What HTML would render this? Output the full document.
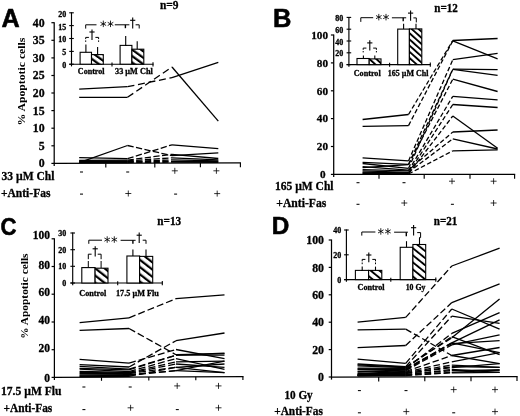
<!DOCTYPE html>
<html><head><meta charset="utf-8"><title>Figure</title>
<style>
html,body{margin:0;padding:0;background:#fff;}
body{width:520px;height:416px;overflow:hidden;font-family:"Liberation Serif",serif;}
svg{display:block;}
</style></head><body>
<svg width="520" height="416" viewBox="0 0 520 416">
<defs>
<pattern id="hatchA" patternUnits="userSpaceOnUse" width="5.2" height="5.2" patternTransform="rotate(-54)"><rect width="5.2" height="5.2" fill="#fff"/><rect x="0" y="0" width="2.2" height="5.2" fill="#000"/></pattern>
<pattern id="hatchB" patternUnits="userSpaceOnUse" width="4.6" height="4.6" patternTransform="rotate(-48)"><rect width="4.6" height="4.6" fill="#fff"/><rect x="0" y="0" width="1.9" height="4.6" fill="#000"/></pattern>
<pattern id="hatchC" patternUnits="userSpaceOnUse" width="5.7" height="5.7" patternTransform="rotate(-52)"><rect width="5.7" height="5.7" fill="#fff"/><rect x="0" y="0" width="2.2" height="5.7" fill="#000"/></pattern>
<pattern id="hatchD" patternUnits="userSpaceOnUse" width="5.5" height="5.5" patternTransform="rotate(-51)"><rect width="5.5" height="5.5" fill="#fff"/><rect x="0" y="0" width="1.9" height="5.5" fill="#000"/></pattern>
<filter id="soft" x="0" y="0" width="520" height="416" filterUnits="userSpaceOnUse"><feGaussianBlur stdDeviation="0.4"/></filter>
</defs>
<rect width="520" height="416" fill="#fff"/>
<g filter="url(#soft)">

<text x="1.5" y="26.8" font-size="25.5" font-family="Liberation Sans, sans-serif" font-weight="bold" stroke="#000" stroke-width="0.6" stroke-linejoin="round" text-anchor="start" textLength="18.2" lengthAdjust="spacingAndGlyphs" >A</text>
<text x="273.0" y="26.8" font-size="25.5" font-family="Liberation Sans, sans-serif" font-weight="bold" stroke="#000" stroke-width="0.6" stroke-linejoin="round" text-anchor="start" >B</text>
<text x="0.6" y="234.6" font-size="24.8" font-family="Liberation Sans, sans-serif" font-weight="bold" stroke="#000" stroke-width="0.6" stroke-linejoin="round" text-anchor="start" textLength="16.0" lengthAdjust="spacingAndGlyphs" >C</text>
<text x="271.8" y="233.9" font-size="24.3" font-family="Liberation Sans, sans-serif" font-weight="bold" stroke="#000" stroke-width="0.6" stroke-linejoin="round" text-anchor="start" >D</text>
<line x1="54.2" y1="22.2" x2="54.2" y2="166.0" stroke="#000" stroke-width="1.25" stroke-linecap="butt"/>
<line x1="53.6" y1="163.4" x2="241.0" y2="162.9" stroke="#000" stroke-width="1.25" stroke-linecap="butt"/>
<line x1="51.4" y1="163.4" x2="54.2" y2="163.4" stroke="#000" stroke-width="1.2" stroke-linecap="butt"/>
<text x="44.6" y="167.3" font-size="11.8" font-family="Liberation Serif, serif" font-weight="bold" stroke="#000" stroke-width="0.3" text-anchor="end" >0</text>
<line x1="51.4" y1="145.8" x2="54.2" y2="145.8" stroke="#000" stroke-width="1.2" stroke-linecap="butt"/>
<text x="44.6" y="149.7" font-size="11.8" font-family="Liberation Serif, serif" font-weight="bold" stroke="#000" stroke-width="0.3" text-anchor="end" >5</text>
<line x1="51.4" y1="128.2" x2="54.2" y2="128.2" stroke="#000" stroke-width="1.2" stroke-linecap="butt"/>
<text x="44.6" y="132.1" font-size="11.8" font-family="Liberation Serif, serif" font-weight="bold" stroke="#000" stroke-width="0.3" text-anchor="end" >10</text>
<line x1="51.4" y1="110.6" x2="54.2" y2="110.6" stroke="#000" stroke-width="1.2" stroke-linecap="butt"/>
<text x="44.6" y="114.5" font-size="11.8" font-family="Liberation Serif, serif" font-weight="bold" stroke="#000" stroke-width="0.3" text-anchor="end" >15</text>
<line x1="51.4" y1="93.0" x2="54.2" y2="93.0" stroke="#000" stroke-width="1.2" stroke-linecap="butt"/>
<text x="44.6" y="97.0" font-size="11.8" font-family="Liberation Serif, serif" font-weight="bold" stroke="#000" stroke-width="0.3" text-anchor="end" >20</text>
<line x1="51.4" y1="75.5" x2="54.2" y2="75.5" stroke="#000" stroke-width="1.2" stroke-linecap="butt"/>
<text x="44.6" y="79.4" font-size="11.8" font-family="Liberation Serif, serif" font-weight="bold" stroke="#000" stroke-width="0.3" text-anchor="end" >25</text>
<line x1="51.4" y1="57.9" x2="54.2" y2="57.9" stroke="#000" stroke-width="1.2" stroke-linecap="butt"/>
<text x="44.6" y="61.8" font-size="11.8" font-family="Liberation Serif, serif" font-weight="bold" stroke="#000" stroke-width="0.3" text-anchor="end" >30</text>
<line x1="51.4" y1="40.3" x2="54.2" y2="40.3" stroke="#000" stroke-width="1.2" stroke-linecap="butt"/>
<text x="44.6" y="44.2" font-size="11.8" font-family="Liberation Serif, serif" font-weight="bold" stroke="#000" stroke-width="0.3" text-anchor="end" >35</text>
<line x1="51.4" y1="22.7" x2="54.2" y2="22.7" stroke="#000" stroke-width="1.2" stroke-linecap="butt"/>
<text x="44.6" y="26.6" font-size="11.8" font-family="Liberation Serif, serif" font-weight="bold" stroke="#000" stroke-width="0.3" text-anchor="end" >40</text>
<line x1="105.8" y1="163.3" x2="105.8" y2="167.6" stroke="#000" stroke-width="1.15" stroke-linecap="butt"/>
<line x1="154.8" y1="163.1" x2="154.8" y2="167.4" stroke="#000" stroke-width="1.15" stroke-linecap="butt"/>
<line x1="200.4" y1="163.0" x2="200.4" y2="167.3" stroke="#000" stroke-width="1.15" stroke-linecap="butt"/>
<line x1="240.4" y1="162.9" x2="240.4" y2="167.2" stroke="#000" stroke-width="1.15" stroke-linecap="butt"/>
<polyline points="79.2,97.3 127.5,97.3" fill="none" stroke="#000" stroke-width="1.3" stroke-linejoin="miter"/>
<polyline points="127.5,97.3 172.0,67.0" fill="none" stroke="#000" stroke-width="1.3" stroke-dasharray="7,3.7" stroke-linejoin="miter"/>
<polyline points="172.0,67.0 218.3,121.2" fill="none" stroke="#000" stroke-width="1.3" stroke-linejoin="miter"/>
<polyline points="79.2,89.2 127.5,86.7" fill="none" stroke="#000" stroke-width="1.3" stroke-linejoin="miter"/>
<polyline points="127.5,86.7 172.0,77.6" fill="none" stroke="#000" stroke-width="1.3" stroke-dasharray="7,3.7" stroke-linejoin="miter"/>
<polyline points="172.0,77.6 218.3,62.4" fill="none" stroke="#000" stroke-width="1.3" stroke-linejoin="miter"/>
<polyline points="79.2,162.7 127.5,145.5" fill="none" stroke="#000" stroke-width="1.3" stroke-linejoin="miter"/>
<polyline points="127.5,145.5 172.0,155.7" fill="none" stroke="#000" stroke-width="1.3" stroke-dasharray="6.3,2.4" stroke-linejoin="miter"/>
<polyline points="172.0,155.7 218.3,152.8" fill="none" stroke="#000" stroke-width="1.3" stroke-linejoin="miter"/>
<polyline points="79.2,157.6 127.5,158.7" fill="none" stroke="#000" stroke-width="1.3" stroke-linejoin="miter"/>
<polyline points="127.5,158.7 172.0,144.8" fill="none" stroke="#000" stroke-width="1.3" stroke-dasharray="6.3,2.4" stroke-linejoin="miter"/>
<polyline points="172.0,144.8 218.3,148.6" fill="none" stroke="#000" stroke-width="1.3" stroke-linejoin="miter"/>
<polyline points="79.2,160.4 127.5,160.1" fill="none" stroke="#000" stroke-width="1.3" stroke-linejoin="miter"/>
<polyline points="127.5,160.1 172.0,154.3" fill="none" stroke="#000" stroke-width="1.3" stroke-dasharray="6.3,2.4" stroke-linejoin="miter"/>
<polyline points="172.0,154.3 218.3,158.5" fill="none" stroke="#000" stroke-width="1.3" stroke-linejoin="miter"/>
<polyline points="79.2,160.8 127.5,160.9" fill="none" stroke="#000" stroke-width="1.3" stroke-linejoin="miter"/>
<polyline points="127.5,160.9 172.0,157.8" fill="none" stroke="#000" stroke-width="1.3" stroke-dasharray="6.3,2.4" stroke-linejoin="miter"/>
<polyline points="172.0,157.8 218.3,159.9" fill="none" stroke="#000" stroke-width="1.3" stroke-linejoin="miter"/>
<polyline points="79.2,161.6 127.5,161.6" fill="none" stroke="#000" stroke-width="1.3" stroke-linejoin="miter"/>
<polyline points="127.5,161.6 172.0,159.9" fill="none" stroke="#000" stroke-width="1.3" stroke-dasharray="6.3,2.4" stroke-linejoin="miter"/>
<polyline points="172.0,159.9 218.3,160.9" fill="none" stroke="#000" stroke-width="1.3" stroke-linejoin="miter"/>
<polyline points="79.2,161.8 127.5,162.0" fill="none" stroke="#000" stroke-width="1.3" stroke-linejoin="miter"/>
<polyline points="127.5,162.0 172.0,161.3" fill="none" stroke="#000" stroke-width="1.3" stroke-dasharray="6.3,2.4" stroke-linejoin="miter"/>
<polyline points="172.0,161.3 218.3,161.6" fill="none" stroke="#000" stroke-width="1.3" stroke-linejoin="miter"/>
<polyline points="79.2,162.3 127.5,162.5" fill="none" stroke="#000" stroke-width="1.3" stroke-linejoin="miter"/>
<polyline points="127.5,162.5 172.0,162.2" fill="none" stroke="#000" stroke-width="1.3" stroke-dasharray="6.3,2.4" stroke-linejoin="miter"/>
<polyline points="172.0,162.2 218.3,162.3" fill="none" stroke="#000" stroke-width="1.3" stroke-linejoin="miter"/>
<text transform="translate(25.2,125.6) rotate(-90)" font-size="10.5" font-family="Liberation Serif, serif" font-weight="bold" textLength="88" lengthAdjust="spacingAndGlyphs">% Apoptotic cells</text>
<text x="160.0" y="9.3" font-size="11.6" font-family="Liberation Serif, serif" font-weight="bold" stroke="#000" stroke-width="0.3" text-anchor="start" textLength="18.6" lengthAdjust="spacingAndGlyphs" >n=9</text>
<text x="1.5" y="180.2" font-size="12" font-family="Liberation Serif, serif" font-weight="bold" stroke="#000" stroke-width="0.3" text-anchor="start" textLength="53.0" lengthAdjust="spacingAndGlyphs" >33 µM Chl</text>
<text x="1.0" y="196.6" font-size="12" font-family="Liberation Serif, serif" font-weight="bold" stroke="#000" stroke-width="0.3" text-anchor="start" textLength="49.4" lengthAdjust="spacingAndGlyphs" >+Anti-Fas</text>
<line x1="80.0" y1="172.0" x2="83.0" y2="172.0" stroke="#000" stroke-width="1.05" stroke-linecap="butt"/>
<line x1="126.2" y1="172.0" x2="129.2" y2="172.0" stroke="#000" stroke-width="1.05" stroke-linecap="butt"/>
<line x1="171.8" y1="170.8" x2="177.8" y2="170.8" stroke="#000" stroke-width="0.8" stroke-linecap="butt"/>
<line x1="174.8" y1="167.8" x2="174.8" y2="173.8" stroke="#000" stroke-width="0.8" stroke-linecap="butt"/>
<line x1="213.4" y1="170.8" x2="219.4" y2="170.8" stroke="#000" stroke-width="0.8" stroke-linecap="butt"/>
<line x1="216.4" y1="167.8" x2="216.4" y2="173.8" stroke="#000" stroke-width="0.8" stroke-linecap="butt"/>
<line x1="80.0" y1="194.1" x2="83.0" y2="194.1" stroke="#000" stroke-width="1.05" stroke-linecap="butt"/>
<line x1="125.3" y1="193.5" x2="131.3" y2="193.5" stroke="#000" stroke-width="0.8" stroke-linecap="butt"/>
<line x1="128.3" y1="190.5" x2="128.3" y2="196.5" stroke="#000" stroke-width="0.8" stroke-linecap="butt"/>
<line x1="174.1" y1="194.1" x2="177.1" y2="194.1" stroke="#000" stroke-width="1.05" stroke-linecap="butt"/>
<line x1="214.2" y1="193.6" x2="220.2" y2="193.6" stroke="#000" stroke-width="0.8" stroke-linecap="butt"/>
<line x1="217.2" y1="190.6" x2="217.2" y2="196.6" stroke="#000" stroke-width="0.8" stroke-linecap="butt"/>
<line x1="71.5" y1="12.3" x2="71.5" y2="66.4" stroke="#000" stroke-width="1.15" stroke-linecap="butt"/>
<line x1="69.2" y1="64.2" x2="153.5" y2="64.2" stroke="#000" stroke-width="1.15" stroke-linecap="butt"/>
<line x1="69.2" y1="64.2" x2="73.8" y2="64.2" stroke="#000" stroke-width="1.1" stroke-linecap="butt"/>
<text x="66.3" y="68.1" font-size="8" font-family="Liberation Serif, serif" font-weight="bold" stroke="#000" stroke-width="0.3" text-anchor="end" >0</text>
<line x1="69.2" y1="51.4" x2="73.8" y2="51.4" stroke="#000" stroke-width="1.1" stroke-linecap="butt"/>
<text x="66.3" y="55.2" font-size="8" font-family="Liberation Serif, serif" font-weight="bold" stroke="#000" stroke-width="0.3" text-anchor="end" >5</text>
<line x1="69.2" y1="38.5" x2="73.8" y2="38.5" stroke="#000" stroke-width="1.1" stroke-linecap="butt"/>
<text x="66.3" y="42.4" font-size="8" font-family="Liberation Serif, serif" font-weight="bold" stroke="#000" stroke-width="0.3" text-anchor="end" >10</text>
<line x1="69.2" y1="25.6" x2="73.8" y2="25.6" stroke="#000" stroke-width="1.1" stroke-linecap="butt"/>
<text x="66.3" y="29.5" font-size="8" font-family="Liberation Serif, serif" font-weight="bold" stroke="#000" stroke-width="0.3" text-anchor="end" >15</text>
<line x1="69.2" y1="12.8" x2="73.8" y2="12.8" stroke="#000" stroke-width="1.1" stroke-linecap="butt"/>
<text x="66.3" y="16.7" font-size="8" font-family="Liberation Serif, serif" font-weight="bold" stroke="#000" stroke-width="0.3" text-anchor="end" >20</text>
<line x1="112.0" y1="62.4" x2="112.0" y2="66.4" stroke="#000" stroke-width="1.1" stroke-linecap="butt"/>
<line x1="153.0" y1="62.2" x2="153.0" y2="66.4" stroke="#000" stroke-width="1.1" stroke-linecap="butt"/>
<rect x="80.1" y="52.3" width="11.4" height="11.9" fill="#fff" stroke="#000" stroke-width="1.1"/>
<line x1="85.9" y1="52.3" x2="85.9" y2="44.4" stroke="#000" stroke-width="1.1" stroke-linecap="butt"/>
<rect x="91.5" y="54.6" width="11.8" height="9.6" fill="url(#hatchA)" stroke="#000" stroke-width="1.1"/>
<line x1="97.6" y1="54.6" x2="97.6" y2="46.9" stroke="#000" stroke-width="1.1" stroke-linecap="butt"/>
<rect x="120.1" y="45.4" width="11.8" height="18.8" fill="#fff" stroke="#000" stroke-width="1.1"/>
<line x1="125.7" y1="45.4" x2="125.7" y2="36.1" stroke="#000" stroke-width="1.1" stroke-linecap="butt"/>
<rect x="131.9" y="49.2" width="11.9" height="15.0" fill="url(#hatchA)" stroke="#000" stroke-width="1.1"/>
<line x1="137.2" y1="49.2" x2="137.2" y2="41.3" stroke="#000" stroke-width="1.1" stroke-linecap="butt"/>
<text x="77.8" y="74.0" font-size="8.3" font-family="Liberation Serif, serif" font-weight="bold" stroke="#000" stroke-width="0.3" text-anchor="start" textLength="26.8" lengthAdjust="spacingAndGlyphs" >Control</text>
<text x="115.0" y="74.0" font-size="8.3" font-family="Liberation Serif, serif" font-weight="bold" stroke="#000" stroke-width="0.3" text-anchor="start" textLength="37.8" lengthAdjust="spacingAndGlyphs" >33 µM Chl</text>
<polyline points="85.7,28.6 85.7,24.8 96.5,24.8" fill="none" stroke="#000" stroke-width="1.0" stroke-linejoin="miter"/>
<line x1="103.3" y1="20.6" x2="103.3" y2="27.1" stroke="#000" stroke-width="0.85" stroke-linecap="butt"/>
<line x1="100.5" y1="22.3" x2="106.1" y2="25.5" stroke="#000" stroke-width="0.85" stroke-linecap="butt"/>
<line x1="106.1" y1="22.3" x2="100.5" y2="25.5" stroke="#000" stroke-width="0.85" stroke-linecap="butt"/>
<line x1="110.5" y1="20.6" x2="110.5" y2="27.1" stroke="#000" stroke-width="0.85" stroke-linecap="butt"/>
<line x1="107.7" y1="22.3" x2="113.3" y2="25.5" stroke="#000" stroke-width="0.85" stroke-linecap="butt"/>
<line x1="113.3" y1="22.3" x2="107.7" y2="25.5" stroke="#000" stroke-width="0.85" stroke-linecap="butt"/>
<line x1="114.8" y1="24.8" x2="129.4" y2="24.8" stroke="#000" stroke-width="1.0" stroke-linecap="butt"/>
<line x1="125.4" y1="24.8" x2="125.4" y2="28.2" stroke="#000" stroke-width="1.4" stroke-linecap="butt"/>
<line x1="132.7" y1="17.5" x2="132.7" y2="28.6" stroke="#000" stroke-width="1.1" stroke-linecap="butt"/>
<line x1="130.1" y1="20.3" x2="135.3" y2="20.3" stroke="#000" stroke-width="1.1" stroke-linecap="butt"/>
<polyline points="135.6,24.8 139.2,24.8 139.2,28.5" fill="none" stroke="#000" stroke-width="1.0" stroke-linejoin="miter"/>
<line x1="85.7" y1="41.9" x2="85.7" y2="40.4" stroke="#000" stroke-width="1.0" stroke-linecap="butt"/>
<polyline points="85.7,39.1 85.7,37.4 88.9,37.4" fill="none" stroke="#000" stroke-width="1.0" stroke-linejoin="miter"/>
<line x1="98.6" y1="41.9" x2="98.6" y2="40.4" stroke="#000" stroke-width="1.0" stroke-linecap="butt"/>
<polyline points="98.6,39.1 98.6,37.4 95.4,37.4" fill="none" stroke="#000" stroke-width="1.0" stroke-linejoin="miter"/>
<line x1="92.0" y1="29.4" x2="92.0" y2="40.0" stroke="#000" stroke-width="1.1" stroke-linecap="butt"/>
<line x1="89.4" y1="32.0" x2="94.6" y2="32.0" stroke="#000" stroke-width="1.1" stroke-linecap="butt"/>
<line x1="333.7" y1="34.5" x2="333.7" y2="177.0" stroke="#000" stroke-width="1.25" stroke-linecap="butt"/>
<line x1="333.1" y1="174.4" x2="515.2" y2="174.4" stroke="#000" stroke-width="1.25" stroke-linecap="butt"/>
<line x1="330.9" y1="174.4" x2="333.7" y2="174.4" stroke="#000" stroke-width="1.2" stroke-linecap="butt"/>
<text x="325.6" y="178.2" font-size="11.2" font-family="Liberation Serif, serif" font-weight="bold" stroke="#000" stroke-width="0.3" text-anchor="end" >0</text>
<line x1="330.9" y1="146.5" x2="333.7" y2="146.5" stroke="#000" stroke-width="1.2" stroke-linecap="butt"/>
<text x="328.0" y="150.3" font-size="11.2" font-family="Liberation Serif, serif" font-weight="bold" stroke="#000" stroke-width="0.3" text-anchor="end" >20</text>
<line x1="330.9" y1="118.6" x2="333.7" y2="118.6" stroke="#000" stroke-width="1.2" stroke-linecap="butt"/>
<text x="328.0" y="122.4" font-size="11.2" font-family="Liberation Serif, serif" font-weight="bold" stroke="#000" stroke-width="0.3" text-anchor="end" >40</text>
<line x1="330.9" y1="90.8" x2="333.7" y2="90.8" stroke="#000" stroke-width="1.2" stroke-linecap="butt"/>
<text x="328.0" y="94.6" font-size="11.2" font-family="Liberation Serif, serif" font-weight="bold" stroke="#000" stroke-width="0.3" text-anchor="end" >60</text>
<line x1="330.9" y1="62.9" x2="333.7" y2="62.9" stroke="#000" stroke-width="1.2" stroke-linecap="butt"/>
<text x="328.0" y="66.7" font-size="11.2" font-family="Liberation Serif, serif" font-weight="bold" stroke="#000" stroke-width="0.3" text-anchor="end" >80</text>
<line x1="330.9" y1="35.0" x2="333.7" y2="35.0" stroke="#000" stroke-width="1.2" stroke-linecap="butt"/>
<text x="328.0" y="38.8" font-size="11.2" font-family="Liberation Serif, serif" font-weight="bold" stroke="#000" stroke-width="0.3" text-anchor="end" >100</text>
<line x1="379.0" y1="174.4" x2="379.0" y2="178.7" stroke="#000" stroke-width="1.15" stroke-linecap="butt"/>
<line x1="424.2" y1="174.4" x2="424.2" y2="178.7" stroke="#000" stroke-width="1.15" stroke-linecap="butt"/>
<line x1="470.0" y1="174.4" x2="470.0" y2="178.7" stroke="#000" stroke-width="1.15" stroke-linecap="butt"/>
<line x1="514.6" y1="174.4" x2="514.6" y2="178.7" stroke="#000" stroke-width="1.15" stroke-linecap="butt"/>
<polyline points="362.6,119.5 408.5,114.5" fill="none" stroke="#000" stroke-width="1.3" stroke-linejoin="miter"/>
<polyline points="408.5,114.5 452.8,40.5" fill="none" stroke="#000" stroke-width="1.3" stroke-dasharray="4.6,2.4" stroke-linejoin="miter"/>
<polyline points="452.8,40.5 497.6,38.5" fill="none" stroke="#000" stroke-width="1.3" stroke-linejoin="miter"/>
<polyline points="362.6,126.4 408.5,125.6" fill="none" stroke="#000" stroke-width="1.3" stroke-linejoin="miter"/>
<polyline points="408.5,125.6 452.8,40.8" fill="none" stroke="#000" stroke-width="1.3" stroke-dasharray="4.6,2.4" stroke-linejoin="miter"/>
<polyline points="452.8,40.8 497.6,58.8" fill="none" stroke="#000" stroke-width="1.3" stroke-linejoin="miter"/>
<polyline points="362.6,157.8 408.5,160.9" fill="none" stroke="#000" stroke-width="1.3" stroke-linejoin="miter"/>
<polyline points="408.5,160.9 452.8,59.7" fill="none" stroke="#000" stroke-width="1.3" stroke-dasharray="4.6,2.4" stroke-linejoin="miter"/>
<polyline points="452.8,59.7 497.6,53.4" fill="none" stroke="#000" stroke-width="1.3" stroke-linejoin="miter"/>
<polyline points="362.6,162.4 408.5,164.4" fill="none" stroke="#000" stroke-width="1.3" stroke-linejoin="miter"/>
<polyline points="408.5,164.4 452.8,69.2" fill="none" stroke="#000" stroke-width="1.3" stroke-dasharray="4.6,2.4" stroke-linejoin="miter"/>
<polyline points="452.8,69.2 497.6,69.7" fill="none" stroke="#000" stroke-width="1.3" stroke-linejoin="miter"/>
<polyline points="362.6,163.5 408.5,168.4" fill="none" stroke="#000" stroke-width="1.3" stroke-linejoin="miter"/>
<polyline points="408.5,168.4 452.8,69.4" fill="none" stroke="#000" stroke-width="1.3" stroke-dasharray="4.6,2.4" stroke-linejoin="miter"/>
<polyline points="452.8,69.4 497.6,75.4" fill="none" stroke="#000" stroke-width="1.3" stroke-linejoin="miter"/>
<polyline points="362.6,167.7 408.5,164.6" fill="none" stroke="#000" stroke-width="1.3" stroke-linejoin="miter"/>
<polyline points="408.5,164.6 452.8,79.2" fill="none" stroke="#000" stroke-width="1.3" stroke-dasharray="4.6,2.4" stroke-linejoin="miter"/>
<polyline points="452.8,79.2 497.6,91.5" fill="none" stroke="#000" stroke-width="1.3" stroke-linejoin="miter"/>
<polyline points="362.6,169.7 408.5,170.9" fill="none" stroke="#000" stroke-width="1.3" stroke-linejoin="miter"/>
<polyline points="408.5,170.9 452.8,96.3" fill="none" stroke="#000" stroke-width="1.3" stroke-dasharray="4.6,2.4" stroke-linejoin="miter"/>
<polyline points="452.8,96.3 497.6,99.8" fill="none" stroke="#000" stroke-width="1.3" stroke-linejoin="miter"/>
<polyline points="362.6,172.2 408.5,173.0" fill="none" stroke="#000" stroke-width="1.3" stroke-linejoin="miter"/>
<polyline points="408.5,173.0 452.8,104.5" fill="none" stroke="#000" stroke-width="1.3" stroke-dasharray="4.6,2.4" stroke-linejoin="miter"/>
<polyline points="452.8,104.5 497.6,107.5" fill="none" stroke="#000" stroke-width="1.3" stroke-linejoin="miter"/>
<polyline points="362.6,173.4 408.5,173.7" fill="none" stroke="#000" stroke-width="1.3" stroke-linejoin="miter"/>
<polyline points="408.5,173.7 452.8,116.0" fill="none" stroke="#000" stroke-width="1.3" stroke-dasharray="4.6,2.4" stroke-linejoin="miter"/>
<polyline points="452.8,116.0 497.6,148.3" fill="none" stroke="#000" stroke-width="1.3" stroke-linejoin="miter"/>
<polyline points="362.6,166.7 408.5,170.2" fill="none" stroke="#000" stroke-width="1.3" stroke-linejoin="miter"/>
<polyline points="408.5,170.2 452.8,132.0" fill="none" stroke="#000" stroke-width="1.3" stroke-dasharray="4.6,2.4" stroke-linejoin="miter"/>
<polyline points="452.8,132.0 497.6,130.0" fill="none" stroke="#000" stroke-width="1.3" stroke-linejoin="miter"/>
<polyline points="362.6,170.9 408.5,172.3" fill="none" stroke="#000" stroke-width="1.3" stroke-linejoin="miter"/>
<polyline points="408.5,172.3 452.8,138.8" fill="none" stroke="#000" stroke-width="1.3" stroke-dasharray="4.6,2.4" stroke-linejoin="miter"/>
<polyline points="452.8,138.8 497.6,149.0" fill="none" stroke="#000" stroke-width="1.3" stroke-linejoin="miter"/>
<polyline points="362.6,173.0 408.5,174.0" fill="none" stroke="#000" stroke-width="1.3" stroke-linejoin="miter"/>
<polyline points="408.5,174.0 452.8,150.8" fill="none" stroke="#000" stroke-width="1.3" stroke-dasharray="4.6,2.4" stroke-linejoin="miter"/>
<polyline points="452.8,150.8 497.6,149.8" fill="none" stroke="#000" stroke-width="1.3" stroke-linejoin="miter"/>
<text x="434.3" y="12.1" font-size="11.6" font-family="Liberation Serif, serif" font-weight="bold" stroke="#000" stroke-width="0.3" text-anchor="start" textLength="23.6" lengthAdjust="spacingAndGlyphs" >n=12</text>
<text x="275.0" y="190.2" font-size="12" font-family="Liberation Serif, serif" font-weight="bold" stroke="#000" stroke-width="0.3" text-anchor="start" textLength="58.5" lengthAdjust="spacingAndGlyphs" >165 µM Chl</text>
<text x="276.3" y="206.5" font-size="12" font-family="Liberation Serif, serif" font-weight="bold" stroke="#000" stroke-width="0.3" text-anchor="start" textLength="50.0" lengthAdjust="spacingAndGlyphs" >+Anti-Fas</text>
<line x1="356.5" y1="182.7" x2="359.5" y2="182.7" stroke="#000" stroke-width="1.05" stroke-linecap="butt"/>
<line x1="402.5" y1="182.7" x2="405.5" y2="182.7" stroke="#000" stroke-width="1.05" stroke-linecap="butt"/>
<line x1="449.0" y1="181.2" x2="455.0" y2="181.2" stroke="#000" stroke-width="0.8" stroke-linecap="butt"/>
<line x1="452.0" y1="178.2" x2="452.0" y2="184.2" stroke="#000" stroke-width="0.8" stroke-linecap="butt"/>
<line x1="490.6" y1="181.2" x2="496.6" y2="181.2" stroke="#000" stroke-width="0.8" stroke-linecap="butt"/>
<line x1="493.6" y1="178.2" x2="493.6" y2="184.2" stroke="#000" stroke-width="0.8" stroke-linecap="butt"/>
<line x1="356.5" y1="204.3" x2="359.5" y2="204.3" stroke="#000" stroke-width="1.05" stroke-linecap="butt"/>
<line x1="401.3" y1="203.0" x2="407.3" y2="203.0" stroke="#000" stroke-width="0.8" stroke-linecap="butt"/>
<line x1="404.3" y1="200.0" x2="404.3" y2="206.0" stroke="#000" stroke-width="0.8" stroke-linecap="butt"/>
<line x1="450.9" y1="204.3" x2="453.9" y2="204.3" stroke="#000" stroke-width="1.05" stroke-linecap="butt"/>
<line x1="490.6" y1="203.0" x2="496.6" y2="203.0" stroke="#000" stroke-width="0.8" stroke-linecap="butt"/>
<line x1="493.6" y1="200.0" x2="493.6" y2="206.0" stroke="#000" stroke-width="0.8" stroke-linecap="butt"/>
<line x1="348.9" y1="16.9" x2="348.9" y2="66.8" stroke="#000" stroke-width="1.15" stroke-linecap="butt"/>
<line x1="346.6" y1="64.6" x2="430.8" y2="64.6" stroke="#000" stroke-width="1.15" stroke-linecap="butt"/>
<line x1="346.6" y1="64.6" x2="351.2" y2="64.6" stroke="#000" stroke-width="1.1" stroke-linecap="butt"/>
<text x="343.3" y="68.1" font-size="8" font-family="Liberation Serif, serif" font-weight="bold" stroke="#000" stroke-width="0.3" text-anchor="end" >0</text>
<line x1="346.6" y1="52.8" x2="351.2" y2="52.8" stroke="#000" stroke-width="1.1" stroke-linecap="butt"/>
<text x="343.3" y="56.3" font-size="8" font-family="Liberation Serif, serif" font-weight="bold" stroke="#000" stroke-width="0.3" text-anchor="end" >20</text>
<line x1="346.6" y1="41.0" x2="351.2" y2="41.0" stroke="#000" stroke-width="1.1" stroke-linecap="butt"/>
<text x="343.3" y="44.5" font-size="8" font-family="Liberation Serif, serif" font-weight="bold" stroke="#000" stroke-width="0.3" text-anchor="end" >40</text>
<line x1="346.6" y1="29.2" x2="351.2" y2="29.2" stroke="#000" stroke-width="1.1" stroke-linecap="butt"/>
<text x="343.3" y="32.7" font-size="8" font-family="Liberation Serif, serif" font-weight="bold" stroke="#000" stroke-width="0.3" text-anchor="end" >60</text>
<line x1="346.6" y1="17.4" x2="351.2" y2="17.4" stroke="#000" stroke-width="1.1" stroke-linecap="butt"/>
<text x="343.3" y="20.9" font-size="8" font-family="Liberation Serif, serif" font-weight="bold" stroke="#000" stroke-width="0.3" text-anchor="end" >80</text>
<line x1="389.6" y1="62.8" x2="389.6" y2="66.8" stroke="#000" stroke-width="1.1" stroke-linecap="butt"/>
<line x1="430.3" y1="62.6" x2="430.3" y2="66.8" stroke="#000" stroke-width="1.1" stroke-linecap="butt"/>
<rect x="357.0" y="58.5" width="12.2" height="6.1" fill="#fff" stroke="#000" stroke-width="1.1"/>
<line x1="363.4" y1="58.5" x2="363.4" y2="55.6" stroke="#000" stroke-width="1.1" stroke-linecap="butt"/>
<rect x="369.2" y="58.9" width="11.8" height="5.7" fill="url(#hatchB)" stroke="#000" stroke-width="1.1"/>
<line x1="374.8" y1="58.9" x2="374.8" y2="55.6" stroke="#000" stroke-width="1.1" stroke-linecap="butt"/>
<rect x="397.7" y="29.1" width="11.7" height="35.5" fill="#fff" stroke="#000" stroke-width="1.1"/>
<line x1="403.6" y1="29.1" x2="403.6" y2="23.8" stroke="#000" stroke-width="1.1" stroke-linecap="butt"/>
<rect x="409.4" y="28.9" width="12.4" height="35.7" fill="url(#hatchB)" stroke="#000" stroke-width="1.1"/>
<line x1="416.0" y1="28.9" x2="416.0" y2="23.8" stroke="#000" stroke-width="1.1" stroke-linecap="butt"/>
<text x="353.7" y="75.6" font-size="8.3" font-family="Liberation Serif, serif" font-weight="bold" stroke="#000" stroke-width="0.3" text-anchor="start" textLength="27.0" lengthAdjust="spacingAndGlyphs" >Control</text>
<text x="387.8" y="75.6" font-size="8.3" font-family="Liberation Serif, serif" font-weight="bold" stroke="#000" stroke-width="0.3" text-anchor="start" textLength="40.6" lengthAdjust="spacingAndGlyphs" >165 µM Chl</text>
<polyline points="360.8,21.9 360.8,17.7 373.2,17.7" fill="none" stroke="#000" stroke-width="1.0" stroke-linejoin="miter"/>
<line x1="378.8" y1="13.9" x2="378.8" y2="20.4" stroke="#000" stroke-width="0.85" stroke-linecap="butt"/>
<line x1="376.0" y1="15.5" x2="381.6" y2="18.7" stroke="#000" stroke-width="0.85" stroke-linecap="butt"/>
<line x1="381.6" y1="15.5" x2="376.0" y2="18.7" stroke="#000" stroke-width="0.85" stroke-linecap="butt"/>
<line x1="386.0" y1="13.9" x2="386.0" y2="20.4" stroke="#000" stroke-width="0.85" stroke-linecap="butt"/>
<line x1="383.2" y1="15.5" x2="388.8" y2="18.7" stroke="#000" stroke-width="0.85" stroke-linecap="butt"/>
<line x1="388.8" y1="15.5" x2="383.2" y2="18.7" stroke="#000" stroke-width="0.85" stroke-linecap="butt"/>
<line x1="391.9" y1="17.8" x2="406.2" y2="17.8" stroke="#000" stroke-width="1.0" stroke-linecap="butt"/>
<line x1="403.2" y1="17.8" x2="403.2" y2="21.3" stroke="#000" stroke-width="1.4" stroke-linecap="butt"/>
<line x1="410.6" y1="10.5" x2="410.6" y2="20.8" stroke="#000" stroke-width="1.1" stroke-linecap="butt"/>
<line x1="408.0" y1="13.1" x2="413.2" y2="13.1" stroke="#000" stroke-width="1.1" stroke-linecap="butt"/>
<polyline points="413.4,17.9 416.3,17.9 416.3,22.4" fill="none" stroke="#000" stroke-width="1.0" stroke-linejoin="miter"/>
<line x1="363.2" y1="52.4" x2="363.2" y2="51.0" stroke="#000" stroke-width="1.0" stroke-linecap="butt"/>
<polyline points="363.2,49.8 363.2,48.1 366.4,48.1" fill="none" stroke="#000" stroke-width="1.0" stroke-linejoin="miter"/>
<line x1="376.4" y1="52.4" x2="376.4" y2="51.0" stroke="#000" stroke-width="1.0" stroke-linecap="butt"/>
<polyline points="376.4,49.8 376.4,48.1 373.2,48.1" fill="none" stroke="#000" stroke-width="1.0" stroke-linejoin="miter"/>
<line x1="369.8" y1="40.3" x2="369.8" y2="50.6" stroke="#000" stroke-width="1.1" stroke-linecap="butt"/>
<line x1="367.2" y1="42.9" x2="372.4" y2="42.9" stroke="#000" stroke-width="1.1" stroke-linecap="butt"/>
<line x1="54.4" y1="238.3" x2="54.4" y2="380.0" stroke="#000" stroke-width="1.25" stroke-linecap="butt"/>
<line x1="53.8" y1="377.4" x2="243.5" y2="376.5" stroke="#000" stroke-width="1.25" stroke-linecap="butt"/>
<line x1="51.6" y1="377.4" x2="54.4" y2="377.4" stroke="#000" stroke-width="1.2" stroke-linecap="butt"/>
<text x="49.9" y="381.8" font-size="11.5" font-family="Liberation Serif, serif" font-weight="bold" stroke="#000" stroke-width="0.3" text-anchor="end" >0</text>
<line x1="51.6" y1="349.7" x2="54.4" y2="349.7" stroke="#000" stroke-width="1.2" stroke-linecap="butt"/>
<text x="49.9" y="351.9" font-size="11.5" font-family="Liberation Serif, serif" font-weight="bold" stroke="#000" stroke-width="0.3" text-anchor="end" >20</text>
<line x1="51.6" y1="322.0" x2="54.4" y2="322.0" stroke="#000" stroke-width="1.2" stroke-linecap="butt"/>
<text x="49.9" y="324.2" font-size="11.5" font-family="Liberation Serif, serif" font-weight="bold" stroke="#000" stroke-width="0.3" text-anchor="end" >40</text>
<line x1="51.6" y1="294.2" x2="54.4" y2="294.2" stroke="#000" stroke-width="1.2" stroke-linecap="butt"/>
<text x="49.9" y="296.4" font-size="11.5" font-family="Liberation Serif, serif" font-weight="bold" stroke="#000" stroke-width="0.3" text-anchor="end" >60</text>
<line x1="51.6" y1="266.5" x2="54.4" y2="266.5" stroke="#000" stroke-width="1.2" stroke-linecap="butt"/>
<text x="49.9" y="268.5" font-size="11.5" font-family="Liberation Serif, serif" font-weight="bold" stroke="#000" stroke-width="0.3" text-anchor="end" >80</text>
<line x1="51.6" y1="238.8" x2="54.4" y2="238.8" stroke="#000" stroke-width="1.2" stroke-linecap="butt"/>
<text x="49.9" y="239.3" font-size="11.5" font-family="Liberation Serif, serif" font-weight="bold" stroke="#000" stroke-width="0.3" text-anchor="end" >100</text>
<line x1="101.5" y1="377.2" x2="101.5" y2="380.8" stroke="#000" stroke-width="1.15" stroke-linecap="butt"/>
<line x1="148.8" y1="376.9" x2="148.8" y2="380.5" stroke="#000" stroke-width="1.15" stroke-linecap="butt"/>
<line x1="195.8" y1="376.7" x2="195.8" y2="380.3" stroke="#000" stroke-width="1.15" stroke-linecap="butt"/>
<line x1="242.9" y1="376.5" x2="242.9" y2="380.1" stroke="#000" stroke-width="1.15" stroke-linecap="butt"/>
<polyline points="79.6,322.7 129.0,317.8" fill="none" stroke="#000" stroke-width="1.3" stroke-linejoin="miter"/>
<polyline points="129.0,317.8 176.0,298.7" fill="none" stroke="#000" stroke-width="1.3" stroke-dasharray="7,3" stroke-linejoin="miter"/>
<polyline points="176.0,298.7 224.5,294.9" fill="none" stroke="#000" stroke-width="1.3" stroke-linejoin="miter"/>
<polyline points="79.6,330.3 129.0,328.5" fill="none" stroke="#000" stroke-width="1.3" stroke-linejoin="miter"/>
<polyline points="129.0,328.5 176.0,354.7" fill="none" stroke="#000" stroke-width="1.3" stroke-dasharray="7,3" stroke-linejoin="miter"/>
<polyline points="176.0,354.7 224.5,353.7" fill="none" stroke="#000" stroke-width="1.3" stroke-linejoin="miter"/>
<polyline points="79.6,364.6 129.0,367.0" fill="none" stroke="#000" stroke-width="1.3" stroke-linejoin="miter"/>
<polyline points="129.0,367.0 176.0,340.7" fill="none" stroke="#000" stroke-width="1.3" stroke-dasharray="7,3" stroke-linejoin="miter"/>
<polyline points="176.0,340.7 224.5,333.0" fill="none" stroke="#000" stroke-width="1.3" stroke-linejoin="miter"/>
<polyline points="79.6,359.4 129.0,363.1" fill="none" stroke="#000" stroke-width="1.3" stroke-linejoin="miter"/>
<polyline points="129.0,363.1 176.0,349.5" fill="none" stroke="#000" stroke-width="1.3" stroke-dasharray="7,3" stroke-linejoin="miter"/>
<polyline points="176.0,349.5 224.5,358.6" fill="none" stroke="#000" stroke-width="1.3" stroke-linejoin="miter"/>
<polyline points="79.6,366.3 129.0,369.2" fill="none" stroke="#000" stroke-width="1.3" stroke-linejoin="miter"/>
<polyline points="129.0,369.2 176.0,355.2" fill="none" stroke="#000" stroke-width="1.3" stroke-dasharray="7,3" stroke-linejoin="miter"/>
<polyline points="176.0,355.2 224.5,353.1" fill="none" stroke="#000" stroke-width="1.3" stroke-linejoin="miter"/>
<polyline points="79.6,368.4 129.0,369.8" fill="none" stroke="#000" stroke-width="1.3" stroke-linejoin="miter"/>
<polyline points="129.0,369.8 176.0,355.2" fill="none" stroke="#000" stroke-width="1.3" stroke-dasharray="7,3" stroke-linejoin="miter"/>
<polyline points="176.0,355.2 224.5,355.2" fill="none" stroke="#000" stroke-width="1.3" stroke-linejoin="miter"/>
<polyline points="79.6,369.2 129.0,371.6" fill="none" stroke="#000" stroke-width="1.3" stroke-linejoin="miter"/>
<polyline points="129.0,371.6 176.0,358.6" fill="none" stroke="#000" stroke-width="1.3" stroke-dasharray="7,3" stroke-linejoin="miter"/>
<polyline points="176.0,358.6 224.5,369.4" fill="none" stroke="#000" stroke-width="1.3" stroke-linejoin="miter"/>
<polyline points="79.6,371.3 129.0,372.5" fill="none" stroke="#000" stroke-width="1.3" stroke-linejoin="miter"/>
<polyline points="129.0,372.5 176.0,361.9" fill="none" stroke="#000" stroke-width="1.3" stroke-dasharray="7,3" stroke-linejoin="miter"/>
<polyline points="176.0,361.9 224.5,361.2" fill="none" stroke="#000" stroke-width="1.3" stroke-linejoin="miter"/>
<polyline points="79.6,372.5 129.0,373.2" fill="none" stroke="#000" stroke-width="1.3" stroke-linejoin="miter"/>
<polyline points="129.0,373.2 176.0,364.0" fill="none" stroke="#000" stroke-width="1.3" stroke-dasharray="7,3" stroke-linejoin="miter"/>
<polyline points="176.0,364.0 224.5,367.3" fill="none" stroke="#000" stroke-width="1.3" stroke-linejoin="miter"/>
<polyline points="79.6,373.5 129.0,373.5" fill="none" stroke="#000" stroke-width="1.3" stroke-linejoin="miter"/>
<polyline points="129.0,373.5 176.0,367.3" fill="none" stroke="#000" stroke-width="1.3" stroke-dasharray="7,3" stroke-linejoin="miter"/>
<polyline points="176.0,367.3 224.5,364.0" fill="none" stroke="#000" stroke-width="1.3" stroke-linejoin="miter"/>
<polyline points="79.6,375.0 129.0,374.6" fill="none" stroke="#000" stroke-width="1.3" stroke-linejoin="miter"/>
<polyline points="129.0,374.6 176.0,370.7" fill="none" stroke="#000" stroke-width="1.3" stroke-dasharray="7,3" stroke-linejoin="miter"/>
<polyline points="176.0,370.7 224.5,361.2" fill="none" stroke="#000" stroke-width="1.3" stroke-linejoin="miter"/>
<polyline points="79.6,376.0 129.0,375.3" fill="none" stroke="#000" stroke-width="1.3" stroke-linejoin="miter"/>
<polyline points="129.0,375.3 176.0,370.7" fill="none" stroke="#000" stroke-width="1.3" stroke-dasharray="7,3" stroke-linejoin="miter"/>
<polyline points="176.0,370.7 224.5,372.7" fill="none" stroke="#000" stroke-width="1.3" stroke-linejoin="miter"/>
<polyline points="79.6,376.7 129.0,376.3" fill="none" stroke="#000" stroke-width="1.3" stroke-linejoin="miter"/>
<polyline points="129.0,376.3 176.0,367.3" fill="none" stroke="#000" stroke-width="1.3" stroke-dasharray="7,3" stroke-linejoin="miter"/>
<polyline points="176.0,367.3 224.5,372.7" fill="none" stroke="#000" stroke-width="1.3" stroke-linejoin="miter"/>
<text transform="translate(27.8,338.8) rotate(-90)" font-size="10.5" font-family="Liberation Serif, serif" font-weight="bold" textLength="85.3" lengthAdjust="spacingAndGlyphs">% Apoptotic cells</text>
<text x="157.3" y="224.7" font-size="11.6" font-family="Liberation Serif, serif" font-weight="bold" stroke="#000" stroke-width="0.3" text-anchor="start" textLength="23.9" lengthAdjust="spacingAndGlyphs" >n=13</text>
<text x="1.0" y="395.2" font-size="12" font-family="Liberation Serif, serif" font-weight="bold" stroke="#000" stroke-width="0.3" text-anchor="start" textLength="60.5" lengthAdjust="spacingAndGlyphs" >17.5 µM Flu</text>
<text x="3.5" y="412.0" font-size="12" font-family="Liberation Serif, serif" font-weight="bold" stroke="#000" stroke-width="0.3" text-anchor="start" textLength="48.8" lengthAdjust="spacingAndGlyphs" >+Anti-Fas</text>
<line x1="82.4" y1="387.0" x2="85.4" y2="387.0" stroke="#000" stroke-width="1.05" stroke-linecap="butt"/>
<line x1="128.7" y1="387.0" x2="131.7" y2="387.0" stroke="#000" stroke-width="1.05" stroke-linecap="butt"/>
<line x1="174.2" y1="385.9" x2="180.2" y2="385.9" stroke="#000" stroke-width="0.8" stroke-linecap="butt"/>
<line x1="177.2" y1="382.9" x2="177.2" y2="388.9" stroke="#000" stroke-width="0.8" stroke-linecap="butt"/>
<line x1="215.5" y1="385.9" x2="221.5" y2="385.9" stroke="#000" stroke-width="0.8" stroke-linecap="butt"/>
<line x1="218.5" y1="382.9" x2="218.5" y2="388.9" stroke="#000" stroke-width="0.8" stroke-linecap="butt"/>
<line x1="82.4" y1="409.6" x2="85.4" y2="409.6" stroke="#000" stroke-width="1.05" stroke-linecap="butt"/>
<line x1="127.6" y1="407.8" x2="133.6" y2="407.8" stroke="#000" stroke-width="0.8" stroke-linecap="butt"/>
<line x1="130.6" y1="404.8" x2="130.6" y2="410.8" stroke="#000" stroke-width="0.8" stroke-linecap="butt"/>
<line x1="175.8" y1="409.6" x2="178.8" y2="409.6" stroke="#000" stroke-width="1.05" stroke-linecap="butt"/>
<line x1="215.5" y1="407.8" x2="221.5" y2="407.8" stroke="#000" stroke-width="0.8" stroke-linecap="butt"/>
<line x1="218.5" y1="404.8" x2="218.5" y2="410.8" stroke="#000" stroke-width="0.8" stroke-linecap="butt"/>
<line x1="72.7" y1="232.5" x2="72.7" y2="285.2" stroke="#000" stroke-width="1.15" stroke-linecap="butt"/>
<line x1="70.4" y1="283.0" x2="162.8" y2="283.0" stroke="#000" stroke-width="1.15" stroke-linecap="butt"/>
<line x1="70.4" y1="283.0" x2="75.0" y2="283.0" stroke="#000" stroke-width="1.1" stroke-linecap="butt"/>
<text x="66.2" y="286.0" font-size="8" font-family="Liberation Serif, serif" font-weight="bold" stroke="#000" stroke-width="0.3" text-anchor="end" >0</text>
<line x1="70.4" y1="266.3" x2="75.0" y2="266.3" stroke="#000" stroke-width="1.1" stroke-linecap="butt"/>
<text x="66.2" y="269.3" font-size="8" font-family="Liberation Serif, serif" font-weight="bold" stroke="#000" stroke-width="0.3" text-anchor="end" >10</text>
<line x1="70.4" y1="249.7" x2="75.0" y2="249.7" stroke="#000" stroke-width="1.1" stroke-linecap="butt"/>
<text x="66.2" y="252.7" font-size="8" font-family="Liberation Serif, serif" font-weight="bold" stroke="#000" stroke-width="0.3" text-anchor="end" >20</text>
<line x1="70.4" y1="233.0" x2="75.0" y2="233.0" stroke="#000" stroke-width="1.1" stroke-linecap="butt"/>
<text x="66.2" y="236.0" font-size="8" font-family="Liberation Serif, serif" font-weight="bold" stroke="#000" stroke-width="0.3" text-anchor="end" >30</text>
<line x1="117.7" y1="281.2" x2="117.7" y2="285.2" stroke="#000" stroke-width="1.1" stroke-linecap="butt"/>
<line x1="162.3" y1="281.0" x2="162.3" y2="285.2" stroke="#000" stroke-width="1.1" stroke-linecap="butt"/>
<rect x="81.8" y="267.6" width="13.3" height="15.4" fill="#fff" stroke="#000" stroke-width="1.1"/>
<rect x="95.1" y="268.2" width="12.9" height="14.8" fill="url(#hatchC)" stroke="#000" stroke-width="1.1"/>
<rect x="126.9" y="256.0" width="12.7" height="27.0" fill="#fff" stroke="#000" stroke-width="1.1"/>
<rect x="139.6" y="256.4" width="13.1" height="26.6" fill="url(#hatchC)" stroke="#000" stroke-width="1.1"/>
<text x="79.3" y="296.4" font-size="8.3" font-family="Liberation Serif, serif" font-weight="bold" stroke="#000" stroke-width="0.3" text-anchor="start" textLength="27.0" lengthAdjust="spacingAndGlyphs" >Control</text>
<text x="116.0" y="296.4" font-size="8.3" font-family="Liberation Serif, serif" font-weight="bold" stroke="#000" stroke-width="0.3" text-anchor="start" textLength="42.8" lengthAdjust="spacingAndGlyphs" >17.5 µM Flu</text>
<polyline points="88.8,243.8 88.8,240.2 102.0,240.2" fill="none" stroke="#000" stroke-width="1.0" stroke-linejoin="miter"/>
<line x1="107.2" y1="236.3" x2="107.2" y2="242.8" stroke="#000" stroke-width="0.85" stroke-linecap="butt"/>
<line x1="104.4" y1="238.0" x2="110.0" y2="241.2" stroke="#000" stroke-width="0.85" stroke-linecap="butt"/>
<line x1="110.0" y1="238.0" x2="104.4" y2="241.2" stroke="#000" stroke-width="0.85" stroke-linecap="butt"/>
<line x1="114.3" y1="236.3" x2="114.3" y2="242.8" stroke="#000" stroke-width="0.85" stroke-linecap="butt"/>
<line x1="111.5" y1="238.0" x2="117.1" y2="241.2" stroke="#000" stroke-width="0.85" stroke-linecap="butt"/>
<line x1="117.1" y1="238.0" x2="111.5" y2="241.2" stroke="#000" stroke-width="0.85" stroke-linecap="butt"/>
<line x1="120.6" y1="240.3" x2="135.6" y2="240.3" stroke="#000" stroke-width="1.0" stroke-linecap="butt"/>
<line x1="132.9" y1="240.3" x2="132.9" y2="243.8" stroke="#000" stroke-width="1.4" stroke-linecap="butt"/>
<line x1="132.9" y1="249.4" x2="132.9" y2="256.0" stroke="#000" stroke-width="1.1" stroke-linecap="butt"/>
<line x1="139.2" y1="232.6" x2="139.2" y2="242.9" stroke="#000" stroke-width="1.1" stroke-linecap="butt"/>
<line x1="136.6" y1="235.2" x2="141.8" y2="235.2" stroke="#000" stroke-width="1.1" stroke-linecap="butt"/>
<polyline points="142.7,240.2 146.0,240.2 146.0,243.8" fill="none" stroke="#000" stroke-width="1.0" stroke-linejoin="miter"/>
<line x1="146.0" y1="249.4" x2="146.0" y2="256.4" stroke="#000" stroke-width="1.1" stroke-linecap="butt"/>
<polyline points="91.6,254.2 88.3,254.2 88.3,267.6" fill="none" stroke="#000" stroke-width="1.0" stroke-dasharray="8.3,1.8,6,0" stroke-linejoin="miter"/>
<polyline points="97.7,254.2 101.1,254.2 101.1,268.0" fill="none" stroke="#000" stroke-width="1.0" stroke-dasharray="8.4,1.8,6,0" stroke-linejoin="miter"/>
<line x1="95.2" y1="246.2" x2="95.2" y2="256.4" stroke="#000" stroke-width="1.1" stroke-linecap="butt"/>
<line x1="92.6" y1="248.8" x2="97.8" y2="248.8" stroke="#000" stroke-width="1.1" stroke-linecap="butt"/>
<line x1="331.5" y1="239.5" x2="331.5" y2="379.6" stroke="#000" stroke-width="1.25" stroke-linecap="butt"/>
<line x1="330.9" y1="377.0" x2="517.6" y2="376.5" stroke="#000" stroke-width="1.25" stroke-linecap="butt"/>
<line x1="328.7" y1="377.0" x2="331.5" y2="377.0" stroke="#000" stroke-width="1.2" stroke-linecap="butt"/>
<text x="324.0" y="381.1" font-size="11.8" font-family="Liberation Serif, serif" font-weight="bold" stroke="#000" stroke-width="0.3" text-anchor="end" >0</text>
<line x1="328.7" y1="349.6" x2="331.5" y2="349.6" stroke="#000" stroke-width="1.2" stroke-linecap="butt"/>
<text x="324.0" y="353.7" font-size="11.8" font-family="Liberation Serif, serif" font-weight="bold" stroke="#000" stroke-width="0.3" text-anchor="end" >20</text>
<line x1="328.7" y1="322.2" x2="331.5" y2="322.2" stroke="#000" stroke-width="1.2" stroke-linecap="butt"/>
<text x="324.0" y="326.3" font-size="11.8" font-family="Liberation Serif, serif" font-weight="bold" stroke="#000" stroke-width="0.3" text-anchor="end" >40</text>
<line x1="328.7" y1="294.8" x2="331.5" y2="294.8" stroke="#000" stroke-width="1.2" stroke-linecap="butt"/>
<text x="324.0" y="298.9" font-size="11.8" font-family="Liberation Serif, serif" font-weight="bold" stroke="#000" stroke-width="0.3" text-anchor="end" >60</text>
<line x1="328.7" y1="267.4" x2="331.5" y2="267.4" stroke="#000" stroke-width="1.2" stroke-linecap="butt"/>
<text x="324.0" y="271.5" font-size="11.8" font-family="Liberation Serif, serif" font-weight="bold" stroke="#000" stroke-width="0.3" text-anchor="end" >80</text>
<line x1="328.7" y1="240.0" x2="331.5" y2="240.0" stroke="#000" stroke-width="1.2" stroke-linecap="butt"/>
<text x="324.0" y="244.1" font-size="11.8" font-family="Liberation Serif, serif" font-weight="bold" stroke="#000" stroke-width="0.3" text-anchor="end" >100</text>
<line x1="378.7" y1="376.9" x2="378.7" y2="381.5" stroke="#000" stroke-width="1.15" stroke-linecap="butt"/>
<line x1="424.8" y1="376.7" x2="424.8" y2="381.3" stroke="#000" stroke-width="1.15" stroke-linecap="butt"/>
<line x1="471.0" y1="376.6" x2="471.0" y2="381.2" stroke="#000" stroke-width="1.15" stroke-linecap="butt"/>
<line x1="517.0" y1="376.5" x2="517.0" y2="381.1" stroke="#000" stroke-width="1.15" stroke-linecap="butt"/>
<polyline points="357.6,322.2 405.7,317.4" fill="none" stroke="#000" stroke-width="1.3" stroke-linejoin="miter"/>
<polyline points="405.7,317.4 451.8,266.0" fill="none" stroke="#000" stroke-width="1.3" stroke-dasharray="6.5,3" stroke-linejoin="miter"/>
<polyline points="451.8,266.0 499.6,248.2" fill="none" stroke="#000" stroke-width="1.3" stroke-linejoin="miter"/>
<polyline points="357.6,329.9 405.7,329.1" fill="none" stroke="#000" stroke-width="1.3" stroke-linejoin="miter"/>
<polyline points="405.7,329.1 451.8,355.5" fill="none" stroke="#000" stroke-width="1.3" stroke-dasharray="6.5,3" stroke-linejoin="miter"/>
<polyline points="451.8,355.5 499.6,347.5" fill="none" stroke="#000" stroke-width="1.3" stroke-linejoin="miter"/>
<polyline points="357.6,347.7 405.7,345.5" fill="none" stroke="#000" stroke-width="1.3" stroke-linejoin="miter"/>
<polyline points="405.7,345.5 451.8,302.6" fill="none" stroke="#000" stroke-width="1.3" stroke-dasharray="6.5,3" stroke-linejoin="miter"/>
<polyline points="451.8,302.6 499.6,283.8" fill="none" stroke="#000" stroke-width="1.3" stroke-linejoin="miter"/>
<polyline points="357.6,359.2 405.7,363.4" fill="none" stroke="#000" stroke-width="1.3" stroke-linejoin="miter"/>
<polyline points="405.7,363.4 451.8,309.0" fill="none" stroke="#000" stroke-width="1.3" stroke-dasharray="6.5,3" stroke-linejoin="miter"/>
<polyline points="451.8,309.0 499.6,329.1" fill="none" stroke="#000" stroke-width="1.3" stroke-linejoin="miter"/>
<polyline points="357.6,364.0 405.7,366.6" fill="none" stroke="#000" stroke-width="1.3" stroke-linejoin="miter"/>
<polyline points="405.7,366.6 451.8,316.2" fill="none" stroke="#000" stroke-width="1.3" stroke-dasharray="6.5,3" stroke-linejoin="miter"/>
<polyline points="451.8,316.2 499.6,323.4" fill="none" stroke="#000" stroke-width="1.3" stroke-linejoin="miter"/>
<polyline points="357.6,364.9 405.7,367.1" fill="none" stroke="#000" stroke-width="1.3" stroke-linejoin="miter"/>
<polyline points="405.7,367.1 451.8,337.8" fill="none" stroke="#000" stroke-width="1.3" stroke-dasharray="6.5,3" stroke-linejoin="miter"/>
<polyline points="451.8,337.8 499.6,298.9" fill="none" stroke="#000" stroke-width="1.3" stroke-linejoin="miter"/>
<polyline points="357.6,365.8 405.7,367.7" fill="none" stroke="#000" stroke-width="1.3" stroke-linejoin="miter"/>
<polyline points="405.7,367.7 451.8,336.7" fill="none" stroke="#000" stroke-width="1.3" stroke-dasharray="6.5,3" stroke-linejoin="miter"/>
<polyline points="451.8,336.7 499.6,354.7" fill="none" stroke="#000" stroke-width="1.3" stroke-linejoin="miter"/>
<polyline points="357.6,368.2 405.7,368.4" fill="none" stroke="#000" stroke-width="1.3" stroke-linejoin="miter"/>
<polyline points="405.7,368.4 451.8,333.4" fill="none" stroke="#000" stroke-width="1.3" stroke-dasharray="6.5,3" stroke-linejoin="miter"/>
<polyline points="451.8,333.4 499.6,312.6" fill="none" stroke="#000" stroke-width="1.3" stroke-linejoin="miter"/>
<polyline points="357.6,368.9 405.7,369.1" fill="none" stroke="#000" stroke-width="1.3" stroke-linejoin="miter"/>
<polyline points="405.7,369.1 451.8,342.8" fill="none" stroke="#000" stroke-width="1.3" stroke-dasharray="6.5,3" stroke-linejoin="miter"/>
<polyline points="451.8,342.8 499.6,319.9" fill="none" stroke="#000" stroke-width="1.3" stroke-linejoin="miter"/>
<polyline points="357.6,369.6 405.7,369.6" fill="none" stroke="#000" stroke-width="1.3" stroke-linejoin="miter"/>
<polyline points="405.7,369.6 451.8,343.6" fill="none" stroke="#000" stroke-width="1.3" stroke-dasharray="6.5,3" stroke-linejoin="miter"/>
<polyline points="451.8,343.6 499.6,340.7" fill="none" stroke="#000" stroke-width="1.3" stroke-linejoin="miter"/>
<polyline points="357.6,371.5 405.7,370.1" fill="none" stroke="#000" stroke-width="1.3" stroke-linejoin="miter"/>
<polyline points="405.7,370.1 451.8,342.8" fill="none" stroke="#000" stroke-width="1.3" stroke-dasharray="6.5,3" stroke-linejoin="miter"/>
<polyline points="451.8,342.8 499.6,352.6" fill="none" stroke="#000" stroke-width="1.3" stroke-linejoin="miter"/>
<polyline points="357.6,372.1 405.7,370.8" fill="none" stroke="#000" stroke-width="1.3" stroke-linejoin="miter"/>
<polyline points="405.7,370.8 451.8,344.9" fill="none" stroke="#000" stroke-width="1.3" stroke-dasharray="6.5,3" stroke-linejoin="miter"/>
<polyline points="451.8,344.9 499.6,334.9" fill="none" stroke="#000" stroke-width="1.3" stroke-linejoin="miter"/>
<polyline points="357.6,373.7 405.7,371.5" fill="none" stroke="#000" stroke-width="1.3" stroke-linejoin="miter"/>
<polyline points="405.7,371.5 451.8,355.5" fill="none" stroke="#000" stroke-width="1.3" stroke-dasharray="6.5,3" stroke-linejoin="miter"/>
<polyline points="451.8,355.5 499.6,363.6" fill="none" stroke="#000" stroke-width="1.3" stroke-linejoin="miter"/>
<polyline points="357.6,374.1 405.7,372.1" fill="none" stroke="#000" stroke-width="1.3" stroke-linejoin="miter"/>
<polyline points="405.7,372.1 451.8,361.9" fill="none" stroke="#000" stroke-width="1.3" stroke-dasharray="6.5,3" stroke-linejoin="miter"/>
<polyline points="451.8,361.9 499.6,352.6" fill="none" stroke="#000" stroke-width="1.3" stroke-linejoin="miter"/>
<polyline points="357.6,374.5 405.7,372.6" fill="none" stroke="#000" stroke-width="1.3" stroke-linejoin="miter"/>
<polyline points="405.7,372.6 451.8,365.1" fill="none" stroke="#000" stroke-width="1.3" stroke-dasharray="6.5,3" stroke-linejoin="miter"/>
<polyline points="451.8,365.1 499.6,367.3" fill="none" stroke="#000" stroke-width="1.3" stroke-linejoin="miter"/>
<polyline points="357.6,374.8 405.7,373.2" fill="none" stroke="#000" stroke-width="1.3" stroke-linejoin="miter"/>
<polyline points="405.7,373.2 451.8,367.7" fill="none" stroke="#000" stroke-width="1.3" stroke-dasharray="6.5,3" stroke-linejoin="miter"/>
<polyline points="451.8,367.7 499.6,363.6" fill="none" stroke="#000" stroke-width="1.3" stroke-linejoin="miter"/>
<polyline points="357.6,375.1 405.7,373.7" fill="none" stroke="#000" stroke-width="1.3" stroke-linejoin="miter"/>
<polyline points="405.7,373.7 451.8,366.7" fill="none" stroke="#000" stroke-width="1.3" stroke-dasharray="6.5,3" stroke-linejoin="miter"/>
<polyline points="451.8,366.7 499.6,367.3" fill="none" stroke="#000" stroke-width="1.3" stroke-linejoin="miter"/>
<polyline points="357.6,375.4 405.7,374.3" fill="none" stroke="#000" stroke-width="1.3" stroke-linejoin="miter"/>
<polyline points="405.7,374.3 451.8,370.6" fill="none" stroke="#000" stroke-width="1.3" stroke-dasharray="6.5,3" stroke-linejoin="miter"/>
<polyline points="451.8,370.6 499.6,370.0" fill="none" stroke="#000" stroke-width="1.3" stroke-linejoin="miter"/>
<polyline points="357.6,375.5 405.7,374.8" fill="none" stroke="#000" stroke-width="1.3" stroke-linejoin="miter"/>
<polyline points="405.7,374.8 451.8,369.5" fill="none" stroke="#000" stroke-width="1.3" stroke-dasharray="6.5,3" stroke-linejoin="miter"/>
<polyline points="451.8,369.5 499.6,372.3" fill="none" stroke="#000" stroke-width="1.3" stroke-linejoin="miter"/>
<polyline points="357.6,375.6 405.7,375.2" fill="none" stroke="#000" stroke-width="1.3" stroke-linejoin="miter"/>
<polyline points="405.7,375.2 451.8,372.3" fill="none" stroke="#000" stroke-width="1.3" stroke-dasharray="6.5,3" stroke-linejoin="miter"/>
<polyline points="451.8,372.3 499.6,370.0" fill="none" stroke="#000" stroke-width="1.3" stroke-linejoin="miter"/>
<polyline points="357.6,375.8 405.7,375.5" fill="none" stroke="#000" stroke-width="1.3" stroke-linejoin="miter"/>
<polyline points="405.7,375.5 451.8,372.8" fill="none" stroke="#000" stroke-width="1.3" stroke-dasharray="6.5,3" stroke-linejoin="miter"/>
<polyline points="451.8,372.8 499.6,372.3" fill="none" stroke="#000" stroke-width="1.3" stroke-linejoin="miter"/>
<text x="433.8" y="225.2" font-size="11.6" font-family="Liberation Serif, serif" font-weight="bold" stroke="#000" stroke-width="0.3" text-anchor="start" textLength="23.6" lengthAdjust="spacingAndGlyphs" >n=21</text>
<text x="284.4" y="399.2" font-size="12" font-family="Liberation Serif, serif" font-weight="bold" stroke="#000" stroke-width="0.3" text-anchor="start" textLength="28.3" lengthAdjust="spacingAndGlyphs" >10 Gy</text>
<text x="274.2" y="414.6" font-size="12" font-family="Liberation Serif, serif" font-weight="bold" stroke="#000" stroke-width="0.3" text-anchor="start" textLength="48.7" lengthAdjust="spacingAndGlyphs" >+Anti-Fas</text>
<line x1="357.9" y1="390.6" x2="360.9" y2="390.6" stroke="#000" stroke-width="1.05" stroke-linecap="butt"/>
<line x1="404.5" y1="390.6" x2="407.5" y2="390.6" stroke="#000" stroke-width="1.05" stroke-linecap="butt"/>
<line x1="450.7" y1="389.6" x2="456.7" y2="389.6" stroke="#000" stroke-width="0.8" stroke-linecap="butt"/>
<line x1="453.7" y1="386.6" x2="453.7" y2="392.6" stroke="#000" stroke-width="0.8" stroke-linecap="butt"/>
<line x1="492.0" y1="389.6" x2="498.0" y2="389.6" stroke="#000" stroke-width="0.8" stroke-linecap="butt"/>
<line x1="495.0" y1="386.6" x2="495.0" y2="392.6" stroke="#000" stroke-width="0.8" stroke-linecap="butt"/>
<line x1="357.9" y1="412.8" x2="360.9" y2="412.8" stroke="#000" stroke-width="1.05" stroke-linecap="butt"/>
<line x1="403.3" y1="411.6" x2="409.3" y2="411.6" stroke="#000" stroke-width="0.8" stroke-linecap="butt"/>
<line x1="406.3" y1="408.6" x2="406.3" y2="414.6" stroke="#000" stroke-width="0.8" stroke-linecap="butt"/>
<line x1="452.2" y1="412.8" x2="455.2" y2="412.8" stroke="#000" stroke-width="1.05" stroke-linecap="butt"/>
<line x1="492.0" y1="411.6" x2="498.0" y2="411.6" stroke="#000" stroke-width="0.8" stroke-linecap="butt"/>
<line x1="495.0" y1="408.6" x2="495.0" y2="414.6" stroke="#000" stroke-width="0.8" stroke-linecap="butt"/>
<line x1="346.4" y1="229.5" x2="346.4" y2="281.8" stroke="#000" stroke-width="1.15" stroke-linecap="butt"/>
<line x1="344.1" y1="279.6" x2="436.3" y2="279.6" stroke="#000" stroke-width="1.15" stroke-linecap="butt"/>
<line x1="344.1" y1="279.6" x2="348.7" y2="279.6" stroke="#000" stroke-width="1.1" stroke-linecap="butt"/>
<text x="341.2" y="282.6" font-size="8" font-family="Liberation Serif, serif" font-weight="bold" stroke="#000" stroke-width="0.3" text-anchor="end" >0</text>
<line x1="344.1" y1="254.8" x2="348.7" y2="254.8" stroke="#000" stroke-width="1.1" stroke-linecap="butt"/>
<text x="341.2" y="257.8" font-size="8" font-family="Liberation Serif, serif" font-weight="bold" stroke="#000" stroke-width="0.3" text-anchor="end" >20</text>
<line x1="344.1" y1="230.0" x2="348.7" y2="230.0" stroke="#000" stroke-width="1.1" stroke-linecap="butt"/>
<text x="341.2" y="233.0" font-size="8" font-family="Liberation Serif, serif" font-weight="bold" stroke="#000" stroke-width="0.3" text-anchor="end" >40</text>
<line x1="390.8" y1="277.8" x2="390.8" y2="281.8" stroke="#000" stroke-width="1.1" stroke-linecap="butt"/>
<line x1="435.8" y1="277.6" x2="435.8" y2="281.8" stroke="#000" stroke-width="1.1" stroke-linecap="butt"/>
<rect x="355.4" y="270.4" width="13.2" height="9.2" fill="#fff" stroke="#000" stroke-width="1.1"/>
<line x1="362.2" y1="270.4" x2="362.2" y2="266.6" stroke="#000" stroke-width="1.1" stroke-linecap="butt"/>
<rect x="368.6" y="270.4" width="13.2" height="9.2" fill="url(#hatchD)" stroke="#000" stroke-width="1.1"/>
<line x1="375.5" y1="270.4" x2="375.5" y2="266.6" stroke="#000" stroke-width="1.1" stroke-linecap="butt"/>
<rect x="400.2" y="247.3" width="12.7" height="32.3" fill="#fff" stroke="#000" stroke-width="1.1"/>
<line x1="406.5" y1="247.3" x2="406.5" y2="241.2" stroke="#000" stroke-width="1.1" stroke-linecap="butt"/>
<rect x="412.9" y="244.5" width="12.8" height="35.1" fill="url(#hatchD)" stroke="#000" stroke-width="1.1"/>
<line x1="419.5" y1="244.5" x2="419.5" y2="237.4" stroke="#000" stroke-width="1.1" stroke-linecap="butt"/>
<text x="357.5" y="290.4" font-size="8.3" font-family="Liberation Serif, serif" font-weight="bold" stroke="#000" stroke-width="0.3" text-anchor="start" textLength="27.0" lengthAdjust="spacingAndGlyphs" >Control</text>
<text x="405.7" y="290.2" font-size="8.3" font-family="Liberation Serif, serif" font-weight="bold" stroke="#000" stroke-width="0.3" text-anchor="start" textLength="19.8" lengthAdjust="spacingAndGlyphs" >10 Gy</text>
<polyline points="361.8,235.6 361.8,232.0 375.4,232.0" fill="none" stroke="#000" stroke-width="1.0" stroke-linejoin="miter"/>
<line x1="380.8" y1="228.2" x2="380.8" y2="234.7" stroke="#000" stroke-width="0.85" stroke-linecap="butt"/>
<line x1="378.0" y1="229.8" x2="383.6" y2="233.0" stroke="#000" stroke-width="0.85" stroke-linecap="butt"/>
<line x1="383.6" y1="229.8" x2="378.0" y2="233.0" stroke="#000" stroke-width="0.85" stroke-linecap="butt"/>
<line x1="387.9" y1="228.2" x2="387.9" y2="234.7" stroke="#000" stroke-width="0.85" stroke-linecap="butt"/>
<line x1="385.1" y1="229.8" x2="390.7" y2="233.0" stroke="#000" stroke-width="0.85" stroke-linecap="butt"/>
<line x1="390.7" y1="229.8" x2="385.1" y2="233.0" stroke="#000" stroke-width="0.85" stroke-linecap="butt"/>
<line x1="394.1" y1="232.2" x2="407.9" y2="232.2" stroke="#000" stroke-width="1.0" stroke-linecap="butt"/>
<line x1="406.3" y1="232.2" x2="406.3" y2="236.2" stroke="#000" stroke-width="1.4" stroke-linecap="butt"/>
<line x1="413.6" y1="225.0" x2="413.6" y2="235.6" stroke="#000" stroke-width="1.1" stroke-linecap="butt"/>
<line x1="411.0" y1="227.7" x2="416.2" y2="227.7" stroke="#000" stroke-width="1.1" stroke-linecap="butt"/>
<polyline points="417.2,232.6 420.6,232.6 420.6,237.6 419.5,237.6" fill="none" stroke="#000" stroke-width="1.0" stroke-linejoin="miter"/>
<line x1="362.2" y1="264.2" x2="362.2" y2="262.5" stroke="#000" stroke-width="1.0" stroke-linecap="butt"/>
<polyline points="362.2,261.3 362.2,259.4 365.4,259.4" fill="none" stroke="#000" stroke-width="1.0" stroke-linejoin="miter"/>
<line x1="375.5" y1="264.2" x2="375.5" y2="262.5" stroke="#000" stroke-width="1.0" stroke-linecap="butt"/>
<polyline points="375.5,261.3 375.5,259.4 372.3,259.4" fill="none" stroke="#000" stroke-width="1.0" stroke-linejoin="miter"/>
<line x1="368.8" y1="252.6" x2="368.8" y2="262.2" stroke="#000" stroke-width="1.1" stroke-linecap="butt"/>
<line x1="366.2" y1="255.0" x2="371.4" y2="255.0" stroke="#000" stroke-width="1.1" stroke-linecap="butt"/>
</g></svg></body></html>
